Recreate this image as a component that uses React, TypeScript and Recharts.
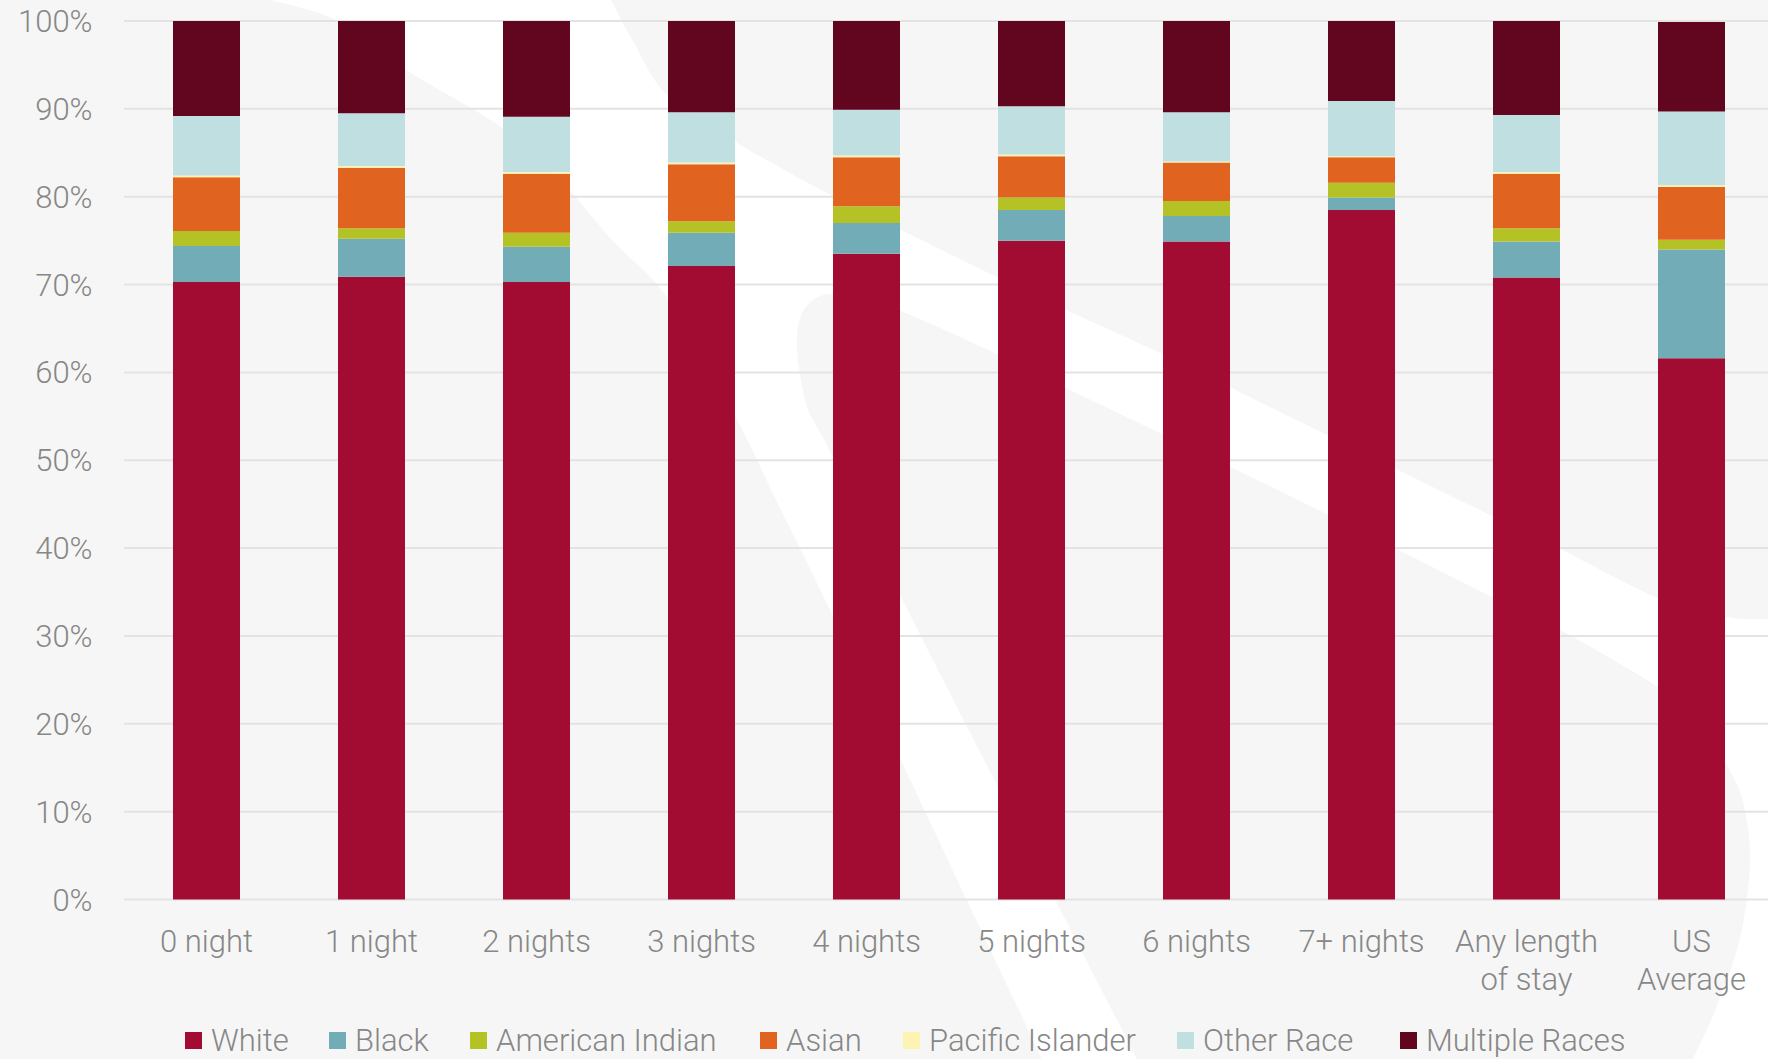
import { Bar, BarChart, CartesianGrid, Legend, XAxis, YAxis } from 'recharts';

// Share of guests by race, per length of stay (percent of total)
const categories = [
  '0 night',
  '1 night',
  '2 nights',
  '3 nights',
  '4 nights',
  '5 nights',
  '6 nights',
  '7+ nights',
  'Any length\nof stay',
  'US\nAverage',
];
const white = [70.3, 70.9, 70.3, 72.1, 73.5, 75.0, 74.9, 78.5, 70.8, 61.6];
const black = [4.1, 4.3, 4.0, 3.8, 3.5, 3.5, 2.9, 1.4, 4.1, 12.4];
const americanIndian = [1.7, 1.2, 1.6, 1.3, 1.9, 1.4, 1.7, 1.7, 1.5, 1.1];
const asian = [6.1, 6.9, 6.7, 6.5, 5.6, 4.7, 4.4, 2.9, 6.2, 6.0];
const pacificIslander = [0.2, 0.2, 0.2, 0.2, 0.2, 0.2, 0.1, 0.1, 0.2, 0.2];
const otherRace = [6.8, 6.0, 6.3, 5.7, 5.2, 5.5, 5.6, 6.3, 6.5, 8.4];
const multipleRaces = [10.8, 10.5, 10.9, 10.4, 10.1, 9.7, 10.4, 9.1, 10.7, 10.2];
const percentTicks = [0, 10, 20, 30, 40, 50, 60, 70, 80, 90, 100];

const series = [
  { key: 'white', name: 'White', color: '#a20c33', values: white },
  { key: 'black', name: 'Black', color: '#72adb7', values: black },
  { key: 'americanIndian', name: 'American Indian', color: '#b5c226', values: americanIndian },
  { key: 'asian', name: 'Asian', color: '#e06420', values: asian },
  { key: 'pacificIslander', name: 'Pacific Islander', color: '#fdf4b3', values: pacificIslander },
  { key: 'otherRace', name: 'Other Race', color: '#c0dfe0', values: otherRace },
  { key: 'multipleRaces', name: 'Multiple Races', color: '#620620', values: multipleRaces },
];

// x offset of each legend entry from the legend's left edge
const legendOffsets = [0, 144, 285, 575, 718, 992, 1215];

const rows = categories.map((name, i) => {
  const row: Record<string, string | number> = { name };
  series.forEach((s) => {
    row[s.key] = s.values[i];
  });
  return row;
});

const FONT = "Roboto, 'Liberation Sans', Arial, sans-serif";
const TEXT = '#878787';

// outline of the white brand swoosh behind the plot
const swooshLeft = [
  [271, 0], [338, 21], [406, 70], [501, 127], [560, 180], [613, 241], [669, 300],
  [735, 416], [780, 508], [833, 616], [900, 758], [971, 909], [1042, 1059],
];
const swooshInner = [
  [1137, 1059], [1060, 909], [1000, 791], [900, 595], [833, 457], [813, 420], [805, 400],
  [797, 350], [800, 318], [812, 301], [830, 294], [860, 298], [899, 310], [999, 355],
  [1066, 388], [1164, 435], [1329, 515], [1494, 598], [1560, 630], [1610, 658], [1660, 689],
  [1700, 725], [1727, 766], [1743, 802], [1750, 861], [1740, 938], [1717, 1006], [1693, 1059],
];
const swooshTop = [
  [1768, 619], [1727, 617], [1660, 599], [1560, 549], [1494, 517], [1329, 436], [1164, 355],
  [1066, 310], [999, 278], [899, 229], [825, 192], [772, 163], [731, 139], [666, 94],
  [633, 41], [611, 0],
];

function curve(pts: number[][], move: boolean) {
  let d = `${move ? 'M' : 'L'}${pts[0][0]},${pts[0][1]}`;
  for (let i = 0; i < pts.length - 1; i++) {
    const p0 = pts[i - 1] || pts[i];
    const p1 = pts[i];
    const p2 = pts[i + 1];
    const p3 = pts[i + 2] || p2;
    d += ` C${p1[0] + (p2[0] - p0[0]) / 6},${p1[1] + (p2[1] - p0[1]) / 6} ${p2[0] - (p3[0] - p1[0]) / 6},${p2[1] - (p3[1] - p1[1]) / 6} ${p2[0]},${p2[1]}`;
  }
  return d;
}

const swooshPath =
  curve(swooshLeft, true) + ' ' + curve(swooshInner, false) + ' L1768,1059 ' + curve(swooshTop, false) + ' Z';

function CategoryTick({ x, y, payload }: any) {
  const lines = String(payload.value).split('\n');
  return (
    <text x={x} y={y + 52} textAnchor="middle" fill={TEXT} fontSize={31} fontFamily={FONT} fontWeight={300}>
      {lines.map((line, i) => (
        <tspan key={i} x={x} dy={i === 0 ? 0 : 38}>
          {line}
        </tspan>
      ))}
    </text>
  );
}

function RaceLegend() {
  return (
    <div style={{ position: 'relative', height: 40, fontFamily: FONT, fontWeight: 300, fontSize: 31, color: TEXT, whiteSpace: 'nowrap' }}>
      {series.map((s, i) => (
        <div
          key={s.key}
          style={{ position: 'absolute', left: legendOffsets[i], top: 0, height: 40, display: 'flex', alignItems: 'center' }}
        >
          <span style={{ width: 17, height: 17, background: s.color, marginRight: 9, display: 'inline-block' }} />
          <span>{s.name}</span>
        </div>
      ))}
    </div>
  );
}

export default function App() {
  return (
    <div style={{ position: 'absolute', left: 0, top: 0, width: 1768, height: 1059, overflow: 'hidden', background: '#f6f6f6' }}>
      <svg width={1768} height={1059} style={{ position: 'absolute', left: 0, top: 0 }}>
        <path d={swooshPath} fill="#ffffff" />
      </svg>
      <div style={{ position: 'absolute', left: 0, top: 0 }}>
        <BarChart width={1790} height={1059} data={rows} margin={{ top: 21, right: 16, bottom: 0, left: 0 }}>
          <CartesianGrid vertical={false} stroke="#e3e3e3" strokeWidth={2} />
          <XAxis
            dataKey="name"
            height={159.5}
            axisLine={false}
            tickLine={false}
            tickSize={0}
            tickMargin={0}
            interval={0}
            tick={<CategoryTick />}
          />
          <YAxis
            type="number"
            domain={[0, 100]}
            ticks={percentTicks}
            width={124}
            axisLine={false}
            tickLine={false}
            tickSize={0}
            tickMargin={31.5}
            tickFormatter={(v) => `${v}%`}
            tick={{ fill: TEXT, fontSize: 31, fontFamily: FONT, fontWeight: 300 }}
          />
          <Legend
            layout="horizontal"
            verticalAlign="middle"
            align="center"
            wrapperStyle={{ top: 1020, left: 185, width: 1560, height: 40 }}
            content={() => <RaceLegend />}
          />
          {series.map((s) => (
            <Bar
              key={s.key}
              dataKey={s.key}
              name={s.name}
              stackId="race"
              fill={s.color}
              barSize={67}
              isAnimationActive={false}
            />
          ))}
        </BarChart>
      </div>
    </div>
  );
}
